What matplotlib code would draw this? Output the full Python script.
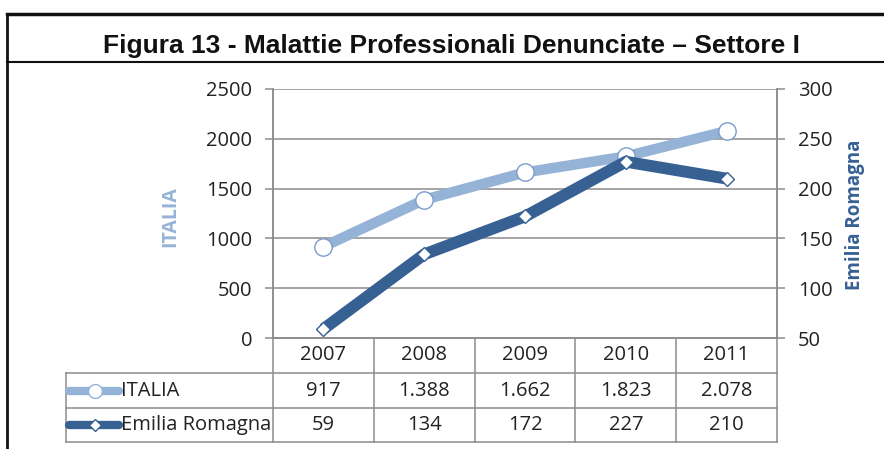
import matplotlib.pyplot as plt
from matplotlib.lines import Line2D

# Dati
anni = ["2007", "2008", "2009", "2010", "2011"]
italia = [917, 1388, 1662, 1823, 2078]
emilia = [59, 134, 172, 227, 210]
italia_lbl = ["917", "1.388", "1.662", "1.823", "2.078"]
emilia_lbl = ["59", "134", "172", "227", "210"]

c_ita = "#95B3D7"
c_er = "#376093"
c_grid = "#8C8C8C"
font = "Open Sans"
fs = 14.5

W, H = 884, 449
fig = plt.figure(figsize=(W / 100, H / 100), dpi=100)

# area del grafico in pixel
x0, x1 = 273, 777
y0, y1 = 338, 89
ax = fig.add_axes([x0 / W, 1 - y0 / H, (x1 - x0) / W, (y0 - y1) / H])
ax2 = ax.twinx()

x = range(len(anni))
ax.plot(x, italia, color=c_ita, lw=7.5, marker="o", ms=12.5,
        mfc="white", mec="#7A9CCB", mew=1.0, solid_capstyle="butt")
ax2.plot(x, emilia, color=c_er, lw=8.5, marker="D", ms=7.5,
         mfc="white", mec=c_er, mew=1.0, solid_capstyle="butt")

ax.set_xlim(-0.5, len(anni) - 0.5)
ax.set_ylim(0, 2500)
ax2.set_ylim(50, 300)
ax.set_yticks(range(0, 2501, 500))
ax2.set_yticks(range(50, 301, 50))
ax.set_xticks([])
ax.yaxis.grid(True, color=c_grid, lw=1.1)
ax.set_axisbelow(True)

for a in (ax, ax2):
    a.spines["top"].set_visible(False)
    for s in ("left", "right", "bottom"):
        a.spines[s].set_color(c_grid)
        a.spines[s].set_linewidth(1.1)
    a.tick_params(axis="y", length=6, width=1.1, color=c_grid,
                  labelsize=fs, labelcolor="#222222", pad=9)
    for t in a.get_yticklabels():
        t.set_fontfamily(font)

fig.text(170 / W, 1 - 217 / H, "ITALIA", rotation=90, color=c_ita,
         fontsize=14, fontweight="bold", family=font, ha="center", va="center")
fig.text(855 / W, 1 - 215 / H, "Emilia Romagna", rotation=90, color=c_er,
         fontsize=13.5, fontweight="bold", family=font, ha="center", va="center")

# tabella dati sotto il grafico (coordinate in pixel)
def px(xp, yp):
    return xp / W, 1 - yp / H

def hline(xa, xb, yp):
    fig.add_artist(Line2D([xa / W, xb / W], [1 - yp / H, 1 - yp / H],
                          color=c_grid, lw=1.1))

def vline(xp, ya, yb):
    fig.add_artist(Line2D([xp / W, xp / W], [1 - ya / H, 1 - yb / H],
                          color=c_grid, lw=1.1))

rows = [338, 373, 408, 442]
cw = (x1 - x0) / len(anni)
tab_left = 66
for yp in rows[1:]:
    hline(tab_left, x1, yp)
for i in range(len(anni) + 1):
    vline(x0 + i * cw, rows[0], rows[-1])
vline(tab_left, rows[1], rows[-1])

for i in range(len(anni)):
    cx = x0 + (i + 0.5) * cw
    for r, txt in enumerate([anni[i], italia_lbl[i], emilia_lbl[i]]):
        cy = (rows[r] + rows[r + 1]) / 2
        fig.text(*px(cx, cy), txt, ha="center", va="center",
                 fontsize=fs, family=font, color="#222222")

# voci di legenda nella tabella
for r, (lab, col, mk, ms, lw) in enumerate([
        ("ITALIA", c_ita, "o", 10, 6),
        ("Emilia Romagna", c_er, "D", 6.5, 6)]):
    cy = (rows[r + 1] + rows[r + 2]) / 2
    fig.add_artist(Line2D([69 / W, 119 / W], [1 - cy / H] * 2, color=col,
                          lw=lw, solid_capstyle="round"))
    fig.add_artist(Line2D([95 / W], [1 - cy / H], marker=mk, ms=ms,
                          mfc="white", mec=col, mew=1.0))
    fig.text(*px(121, cy), lab, ha="left", va="center", fontsize=fs,
             family=font, color="#222222")

# cornice e titolo
fig.add_artist(Line2D([7 / W, 1], [1 - 14 / H] * 2, color="#111111", lw=2.5))
fig.add_artist(Line2D([7 / W, 7 / W], [1 - 14 / H, 0], color="#111111", lw=2))
fig.add_artist(Line2D([7 / W, 1], [1 - 62 / H] * 2, color="#111111", lw=1.5))
fig.text(*px(451, 46), "Figura 13 - Malattie Professionali Denunciate \u2013 Settore I",
         ha="center", va="center", fontsize=19, fontweight="bold",
         family="Liberation Sans", color="#111111")

fig.savefig("out.png", dpi=100)
